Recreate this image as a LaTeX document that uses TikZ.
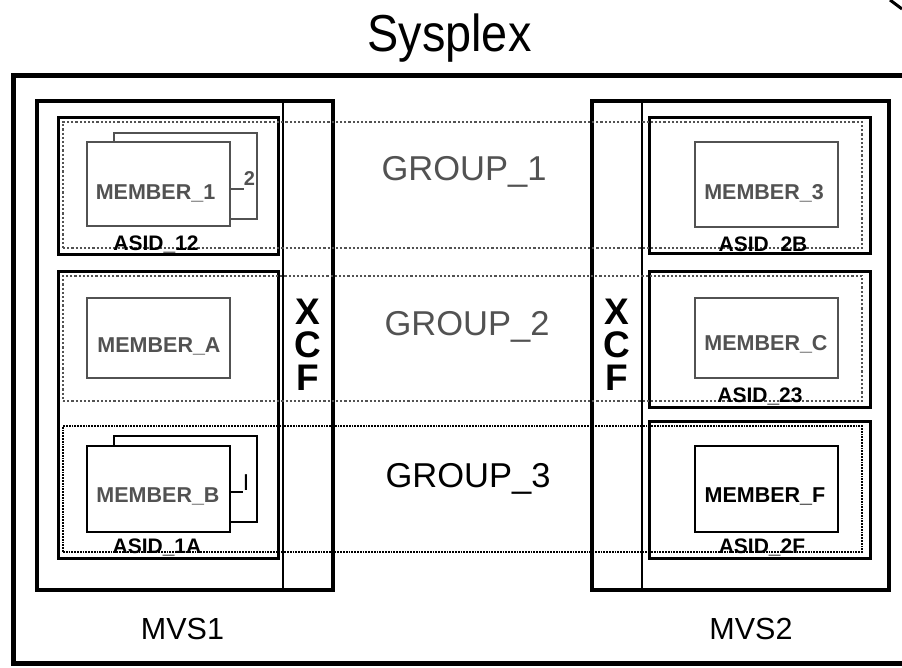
\documentclass[tikz,border=0pt]{standalone}
\usepackage{fontspec}
\setmainfont{Liberation Sans}
\colorlet{stip}{black!68}
\begin{document}
\begin{tikzpicture}[x=1pt,y=-1pt,
  frame/.style={draw, inner sep=0pt, outer sep=0pt},
  sysbox/.style={frame, line width=5pt},
  mvsbox/.style={frame, line width=4pt},
  asidbox/.style={frame, line width=3pt},
  grplight/.style={frame, draw=stip, dotted, line width=2.2pt},
  grpdark/.style={frame, draw=black, densely dotted, line width=1.8pt},
  memlight/.style={frame, draw=stip, line width=2.8pt, fill=white, minimum width=143pt},
  memdark/.style={frame, draw=black, line width=2.6pt, fill=white, minimum width=143pt},
  xcfline/.style={line width=2pt},
  leader/.style={line width=1.5pt},
  lbl/.style={inner sep=0pt, anchor=base},
  memtxt/.style={lbl, font=\fontsize{21.5}{24}\selectfont\bfseries},
  asidtxt/.style={lbl, font=\fontsize{21}{24}\selectfont\bfseries},
  grptxt/.style={lbl, font=\fontsize{34.5}{40}\selectfont},
  mvstxt/.style={lbl, font=\fontsize{30.5}{36}\selectfont},
  xcftxt/.style={lbl, font=\fontsize{37}{40}\selectfont\bfseries},
]
\useasboundingbox (0,0) rectangle (902,667);
\clip (0,0) rectangle (902,667);
\fill[white] (0,0) rectangle (902,667);

% title
\node[lbl] (title) at (449.5,51) {\scalebox{0.9}[1]{\fontsize{52}{60}\selectfont Sysplex}};
\draw[line width=3pt] (890,0) -- (902,9);

% sysplex frame
\node[sysbox, minimum width=902pt, minimum height=588pt] (sysplex) at (464,369) {};

% MVS images
\node[mvsbox, minimum width=296pt, minimum height=489pt] (mvs1) at (185,345.5) {};
\node[mvsbox, minimum width=297pt, minimum height=489pt] (mvs2) at (740.5,345.5) {};
\draw[xcfline] (283,0 |- mvs1.north) -- (283,0 |- mvs1.south);
\draw[xcfline] (642,0 |- mvs2.north) -- (642,0 |- mvs2.south);

% address spaces
\node[asidbox, minimum width=220pt, minimum height=137pt] (asid12) at (168,185.5) {};
\node[asidbox, minimum width=220pt, minimum height=287pt] (asid1a) at (168,414.5) {};
\node[asidbox, minimum width=221pt, minimum height=136pt] (asid2b) at (759.5,185) {};
\node[asidbox, minimum width=221pt, minimum height=136pt] (asid23) at (759.5,339) {};
\node[asidbox, minimum width=221pt, minimum height=137pt] (asid2f) at (759.5,489.5) {};

% members
\node[memlight, minimum height=86pt] (m1back) at (185.5,176) {};
\node[memlight, minimum height=84pt] (m1) at (158.5,184) {};
\node[memlight, minimum height=80pt] (ma) at (158.5,338) {};
\node[memdark, minimum height=86pt] (mbback) at (185.5,479) {};
\node[memdark, minimum height=86pt] (mb) at (158.5,489) {};
\node[memlight, minimum height=85pt] (m3) at (766.5,184.5) {};
\node[memlight, minimum height=80pt] (mc) at (766.5,338) {};
\node[memdark, minimum height=86pt] (mf) at (766.5,489) {};

% groups
\node[grplight, minimum width=799pt, minimum height=126pt] (g1) at (462.5,185) {};
\node[grplight, minimum width=799pt, minimum height=125pt] (g2) at (462.5,338.5) {};
\node[grpdark, minimum width=799pt, minimum height=126pt] (g3) at (462.5,489) {};

% member labels
\node[memtxt, text=stip] (t1) at (155.5,199) {MEMBER\_1};
\node[memtxt, text=stip] (ta) at (159,352) {MEMBER\_A};
\node[memtxt, text=stip] (tb) at (158,502) {MEMBER\_B};
\node[memtxt, text=stip] (t3) at (764,199) {MEMBER\_3};
\node[memtxt, text=stip] (tc) at (766,350) {MEMBER\_C};
\node[memtxt] (tf) at (765,502) {MEMBER\_F};

% instance labels
\node[lbl, text=stip, font=\fontsize{20}{22}\selectfont\bfseries] (n2) at (249.5,185) {2};
\draw[leader, stip] (m1.east |- 0,189) -- (n2.south west |- 0,189);
\node[lbl, font=\fontsize{23}{26}\selectfont] (ni) at (246,490) {I};
\draw[leader] (mb.east |- 0,492) -- (ni.west |- 0,492);

% ASID labels
\node[asidtxt] (a12) at (156,250) {ASID\_12};
\node[asidtxt] (a1a) at (157,553) {ASID\_1A};
\node[asidtxt] (a2b) at (763,251) {ASID\_2B};
\node[asidtxt] (a23) at (760,402) {ASID\_23};
\node[asidtxt] (a2f) at (762,553) {ASID\_2F};

% group labels
\node[grptxt, text=stip] (gl1) at (464,180) {GROUP\_1};
\node[grptxt, text=stip] (gl2) at (467,335) {GROUP\_2};
\node[grptxt] (gl3) at (468,487) {GROUP\_3};

% XCF
\node[xcftxt] (xcf1x) at (308,324) {X};
\node[xcftxt] (xcf1c) at (308,357) {C};
\node[xcftxt] (xcf1f) at (308,390) {F};
\node[xcftxt] (xcf2x) at (617,324) {X};
\node[xcftxt] (xcf2c) at (617,357) {C};
\node[xcftxt] (xcf2f) at (617,390) {F};

% MVS labels
\node[mvstxt] (l1) at (182.5,639) {MVS1};
\node[mvstxt] (l2) at (751,639) {MVS2};
\end{tikzpicture}
\end{document}
